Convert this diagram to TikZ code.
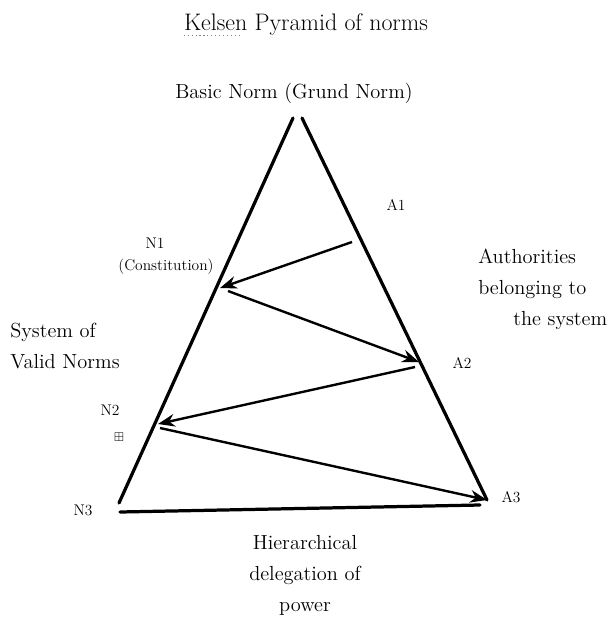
\documentclass[tikz,border=0pt]{standalone}
\usepackage{amsmath,amssymb}
\usepackage{tikz}
\usetikzlibrary{arrows.meta}

\tikzset{
  side/.style={black, line width=2.3pt, line cap=round},
  deleg/.style={black, line width=1.7pt, ->},
  bigtxt/.style={text=black, inner sep=0pt, font=\fontsize{14.5}{22}\selectfont},
  smalltxt/.style={text=black, inner sep=0pt, font=\fontsize{11}{13}\selectfont},
}

\begin{document}
\begin{tikzpicture}[x=0.025cm,y=-0.025cm,>={Stealth[length=12pt,width=9pt]}]

\useasboundingbox (0,0) rectangle (614,623);

% ---------- titles ----------
\node[text=black,inner sep=0pt,font=\fontsize{17}{20}\selectfont] (title) at (306,25) {Kelsen Pyramid of norms};
\draw[gray,dotted,line width=0.8pt] ([yshift=-3pt]title.base west) -- ++(58,0);

\node[text=black,inner sep=0pt,font=\fontsize{14.5}{18}\selectfont] (basic) at (294,93) {Basic Norm (Grund Norm)};

% ---------- pyramid ----------
\coordinate (topl) at (293,118);
\coordinate (topr) at (302,118);
\coordinate (botl) at (119,503);
\coordinate (botr) at (487,500);
\coordinate (basel) at (120,512);
\coordinate (baser) at (480,505);

\draw[side] (topl) -- (botl);
\draw[side] (topr) -- (botr);
\draw[side] (basel) -- (baser);

% ---------- delegation arrows ----------
\coordinate (a1) at (352,242);
\coordinate (n1in) at (220,288);
\coordinate (n1out) at (228,291);
\coordinate (a2in) at (419,362);
\coordinate (a2out) at (415,367);
\coordinate (n2in) at (158,424);
\coordinate (n2out) at (160,428);
\coordinate (a3) at (487,500);

\draw[deleg] (a1) -- (n1in);
\draw[deleg] (n1out) -- (a2in);
\draw[deleg] (a2out) -- (n2in);
\draw[deleg] (n2out) -- (a3);

% ---------- labels ----------
\node[smalltxt] (a1lbl) at (396,205) {A1};
\node[smalltxt] (n1lbl) at (155,243) {N1};
\node[text=black,inner sep=0pt,font=\fontsize{11}{13}\selectfont] (const) at (166,267) {(Constitution)};
\node[smalltxt] (a2lbl) at (462,363) {A2};
\node[smalltxt] (n2lbl) at (110,410) {N2};
\node[text=black,inner sep=0pt,font=\fontsize{9}{10}\selectfont] (boxmark) at (119,437) {$\boxplus$};
\node[smalltxt] (n3lbl) at (83,510) {N3};
\node[smalltxt] (a3lbl) at (511,497) {A3};

\node[bigtxt,align=left,anchor=west] (system) at (10,346) {System of\\Valid Norms};
\node[bigtxt,align=left,anchor=west] (auth) at (478,289) {Authorities\\belonging to\\\hspace*{0.875cm}the system};
\node[bigtxt,align=center] (hier) at (305,575) {Hierarchical\\delegation of\\power};

\end{tikzpicture}
\end{document}
